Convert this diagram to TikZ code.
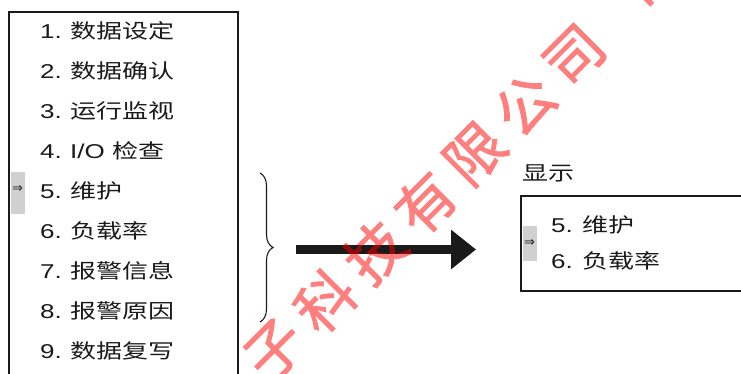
\documentclass[tikz,border=0pt]{standalone}
\usepackage{fontspec}
\setmainfont[FakeStretch=1.3]{Liberation Sans}
\newfontfamily\cjk[FakeStretch=1.3]{Noto Sans CJK SC}
\newfontfamily\wmfont[FakeBold=1.5]{Noto Sans CJK SC}
\newfontfamily\symfont{DejaVu Sans}
\usetikzlibrary{arrows.meta,decorations.pathreplacing}
\definecolor{ink}{HTML}{1A1A1A}
\definecolor{hl}{HTML}{D0D0D3}
\begin{document}
\begin{tikzpicture}[x=1pt,y=-1pt,
  num/.style={anchor=base west, inner sep=0pt, font=\fontsize{20}{24}\selectfont, text=ink},
  item/.style={anchor=base west, inner sep=0pt, font=\fontsize{20}{24}\selectfont\cjk, text=ink},
  frame/.style={draw=ink, line width=2pt, anchor=north west, inner sep=0pt},
  hlbox/.style={fill=hl, minimum width=14pt, inner sep=0pt},
  sym/.style={inner sep=0pt, font=\fontsize{13}{15}\selectfont\symfont, text=ink},
  wm/.style={font=\fontsize{58}{58}\selectfont\wmfont, text=red, rotate=45, inner sep=0pt}]
\useasboundingbox (0,0) rectangle (741,374);
\clip (0,0) rectangle (741,374);
\fill[white] (0,0) rectangle (741,374);

% left menu box
\node[frame, minimum width=229pt, minimum height=400pt] (menu) at (7.5,11) {};
\node[hlbox, minimum height=42pt] (h1) at (18,193) {};
\node[sym] (s1) at (17.5,189.5) {⇒};
\foreach \i/\t in {1/数据设定, 2/数据确认, 3/运行监视, 4/{{\normalfont I/O }检查}, 5/维护, 6/负载率, 7/报警信息, 8/报警原因, 9/数据复写} {
  \node[num] (n\i) at (40,{38.5+40*(\i-1)}) {\i.};
  \node[item] (t\i) at (70,{38.5+40*(\i-1)}) {\t};
}

% brace
\coordinate (bt) at (260,173);
\coordinate (bb) at (260,322);
\draw[ink, line width=1.1pt, decorate, decoration={brace, amplitude=13pt}] (bt) -- (bb);

% arrow
\coordinate (as) at (296,249.5);
\coordinate (ae) at (476,249.5);
\draw[ink, line width=9pt, -{Triangle[length=25pt,width=38pt]}] (as) -- (ae);

% display box
\node[item] (lbl) at (522,181) {显示};
\node[frame, minimum width=240pt, minimum height=94.5pt] (disp) at (519.5,195.5) {};
\node[hlbox, minimum height=35pt] (h2) at (530,243.5) {};
\node[sym] (s2) at (529.5,243.5) {⇒};
\node[num] (r5) at (551,233) {5.};
\node[item] (rt5) at (582,233) {维护};
\node[num] (r6) at (551,268) {6.};
\node[item] (rt6) at (582,268) {负载率};

% watermark
\begin{scope}[transparency group, opacity=0.5]
\foreach \c [count=\k from 0] in {子,科,技,有,限,公,司} {
  \node[wm] (w\k) at ({275+50*\k},{350-49*\k}) {\c};
}
\node[wm] (w7) at (655,-20) {电};
\end{scope}
\end{tikzpicture}
\end{document}
